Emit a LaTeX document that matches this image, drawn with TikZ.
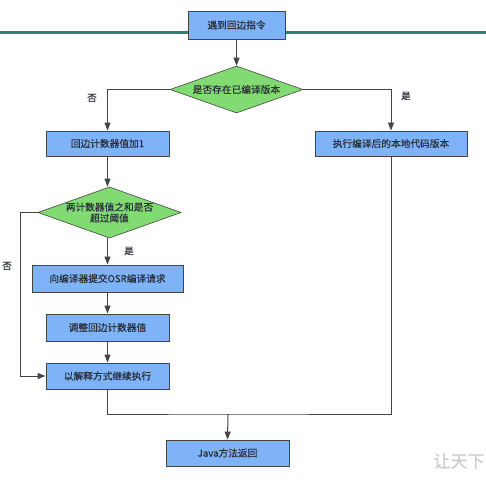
\documentclass[tikz,border=0pt]{standalone}
\usepackage{fontspec}
\setmainfont{Noto Sans CJK SC}[FakeBold=0.5]
\usetikzlibrary{shapes.geometric,arrows.meta}
\definecolor{boxblue}{HTML}{7EB4F7}
\definecolor{dgreen}{HTML}{82DB72}
\definecolor{edgegray}{HTML}{444444}
\definecolor{teal2}{HTML}{2F7F72}
\definecolor{txt}{HTML}{2B2F3A}
\begin{document}
\begin{tikzpicture}[x=1pt,y=-1pt,
  font=\fontsize{9.7}{11}\selectfont,
  every node/.style={text=txt},
  proc/.style={draw=edgegray,line width=0.9pt,fill=boxblue,rectangle,inner sep=0pt},
  dec/.style={draw=edgegray,line width=0.6pt,fill=dgreen,diamond,aspect=2.8,inner sep=0pt},
  conn/.style={draw=edgegray,line width=1pt},
  arr/.style={conn,-{Triangle[length=8pt,width=6pt]}},
  lbl/.style={font=\fontsize{9.5}{10}\selectfont}]
\useasboundingbox (0,0) rectangle (486,481);
\fill[white] (0,0) rectangle (486,481);
\draw[teal2,line width=3pt] (0,33) -- (486,33);
% nodes
\node[proc,minimum width=97pt,minimum height=28pt] (start) at (236.5,25) {遇到回边指令};
\node[dec,minimum width=133pt,minimum height=47pt] (d1) at (236.5,89.5) {是否存在已编译版本};
\node[proc,minimum width=123pt,minimum height=25pt] (inc) at (107.5,143.5) {回边计数器值加1};
\node[proc,minimum width=152pt,minimum height=25pt] (exec) at (391,143.5) {执行编译后的本地代码版本};
\node[dec,minimum width=135pt,minimum height=51pt,align=center] (d2) at (109.5,212.5) {两计数器值之和是否\\超过阈值};
\node[proc,minimum width=151pt,minimum height=27pt] (osr) at (107.5,278.5) {向编译器提交OSR编译请求};
\node[proc,minimum width=123pt,minimum height=27pt] (adj) at (107.5,327.5) {调整回边计数器值};
\node[proc,minimum width=123pt,minimum height=26pt] (interp) at (107.5,376) {以解释方式继续执行};
\node[proc,minimum width=123pt,minimum height=26pt] (ret) at (227.5,453) {Java方法返回};
\coordinate (m) at (228,414);
% connectors
\draw[arr] (start.south) -- (d1.north);
\draw[arr] (d1.west) -| (inc.north);
\draw[arr] (d1.east) -| (exec.north);
\draw[arr] (inc.south) -- (inc.south |- d2.north);
\draw[arr] (d2.south -| osr.north) -- (osr.north);
\draw[arr] (osr.south -| adj.north) -- (adj.north);
\draw[arr] (adj.south) -- (interp.north);
\draw[arr] (d2.west) -- (20,212.5) |- (interp.west);
\draw[conn] (interp.south) |- (m) -| (exec.south);
\draw[arr] (m) -- (ret.north);
% labels
\node[lbl] (l1) at (92,98) {否};
\node[lbl] (l2) at (406,96) {是};
\node[lbl] (l3) at (129,251) {是};
\node[lbl] (l4) at (7,266) {否};
\node[text=black!20,font=\fontsize{17}{17}\selectfont,anchor=west] (wm) at (430,461) {让天下};
\end{tikzpicture}
\end{document}
